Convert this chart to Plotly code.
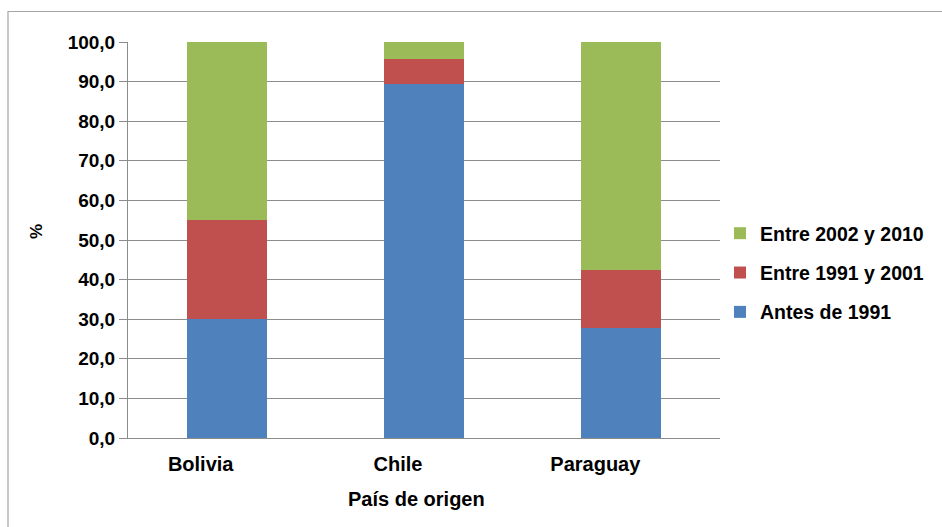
import plotly.graph_objects as go

categories = ["Bolivia", "Chile", "Paraguay"]
antes_1991 = [30.0, 89.3, 27.8]
entre_1991_2001 = [25.0, 6.3, 14.7]
entre_2002_2010 = [45.0, 4.4, 57.5]
y_ticks = [0, 10, 20, 30, 40, 50, 60, 70, 80, 90, 100]
y_tick_labels = ["0,0", "10,0", "20,0", "30,0", "40,0", "50,0", "60,0", "70,0", "80,0", "90,0", "100,0"]

series = [
    ("Antes de 1991", antes_1991, "#4F81BD"),
    ("Entre 1991 y 2001", entre_1991_2001, "#C0504D"),
    ("Entre 2002 y 2010", entre_2002_2010, "#9BBB59"),
]

FONT = "Liberation Sans, Arial, sans-serif"

fig = go.Figure()
for i, (name, vals, color) in enumerate(series):
    fig.add_trace(go.Bar(
        x=categories, y=vals, name=name, legendgroup=f"g{i}",
        legendrank=10 - i,
        marker=dict(color=color, line=dict(width=0)),
    ))

W, H = 942, 527
L, R, T, B = 128, 222, 42, 89
pw, ph = W - L - R, H - T - B

def px_x(x):
    return (x - L) / pw

def px_y(y):
    return (H - B - y) / ph

fig.update_layout(
    width=W, height=H,
    margin=dict(l=L, r=R, t=T, b=B),
    barmode="stack",
    bargap=0.595,
    plot_bgcolor="white",
    paper_bgcolor="white",
    font=dict(family=FONT, size=19, color="#000000"),
    showlegend=True,
    legend=dict(
        x=1.0, xanchor="left", y=px_y(273), yanchor="middle",
        traceorder="grouped", tracegroupgap=11,
        font=dict(family=FONT, size=19.5, color="#000000", weight="bold"),
        bgcolor="rgba(0,0,0,0)",
    ),
    xaxis=dict(
        showgrid=False, showline=True, linecolor="#8c8c8c", linewidth=1,
        ticks="", tickfont=dict(family=FONT, size=20, weight="bold"),
        ticklabelshift=-26, ticklabelstandoff=8,
    ),
    yaxis=dict(
        range=[0, 100], tickvals=y_ticks, ticktext=y_tick_labels,
        showgrid=True, gridcolor="#8c8c8c", gridwidth=1,
        showline=True, linecolor="#8c8c8c", linewidth=1,
        ticks="outside", ticklen=8, tickcolor="#8c8c8c",
        tickfont=dict(family=FONT, size=19, weight="bold"),
        zeroline=False,
    ),
    annotations=[
        dict(text="País de origen", xref="paper", yref="paper",
             x=px_x(416), y=px_y(499), xanchor="center", yanchor="middle",
             showarrow=False, font=dict(family=FONT, size=20, weight="bold")),
        dict(text="%", xref="paper", yref="paper", textangle=-90,
             x=px_x(36), y=px_y(232), xanchor="center", yanchor="middle",
             showarrow=False, font=dict(family=FONT, size=17, weight="bold")),
    ],
    shapes=[
        dict(type="rect", xref="paper", yref="paper",
             x0=px_x(8), x1=px_x(960), y0=px_y(545), y1=px_y(11.5),
             line=dict(color="#a6a6a6", width=1.2), fillcolor="rgba(0,0,0,0)",
             layer="above"),
    ],
)

fig.write_html("out.html", config={"displayModeBar": False},
               post_script="document.body.style.margin='0';")
